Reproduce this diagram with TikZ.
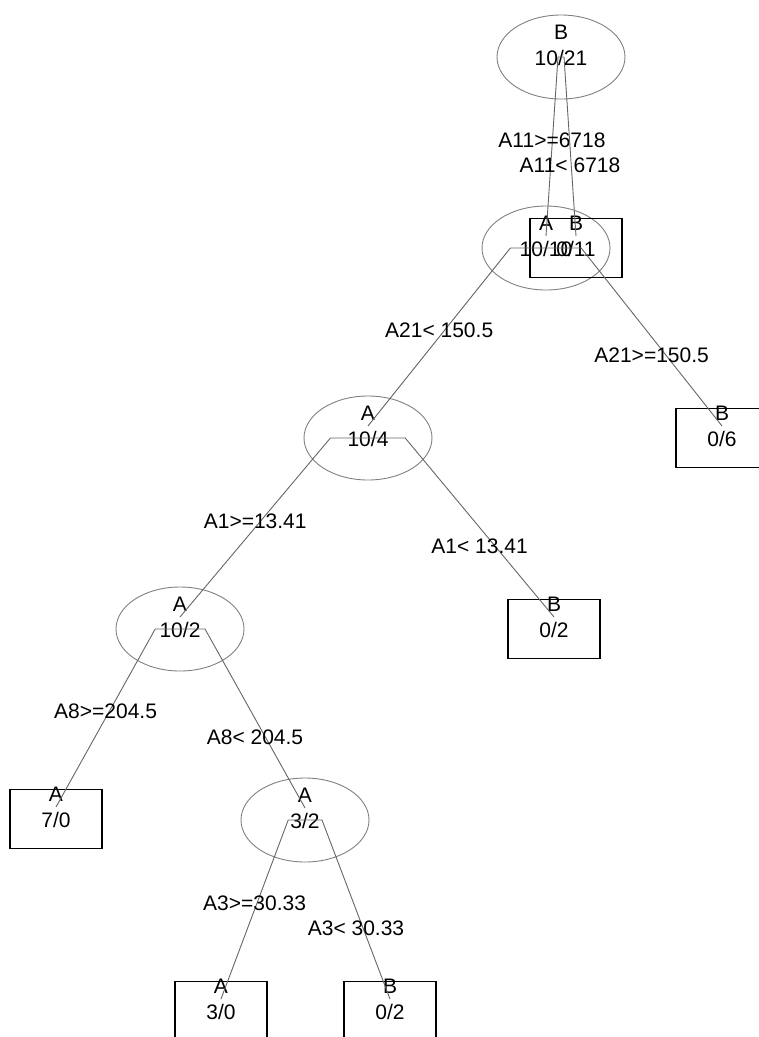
\documentclass[tikz,border=0pt]{standalone}
\usepackage{fontspec}
\setmainfont{Liberation Sans}
\usetikzlibrary{shapes,calc}
\newcommand{\branch}[4]{
  \draw[edge] (#1.center) -- ($(#1.center)!0.2!(#1.center -| #2.center)$) coordinate (#1#2k)
    -- ([yshift=12pt]#2.center);
  \node[cond] (#1#2c) at ($(#1#2k)!0.5!(#2.center) + (0,#4)$) {#3};
}
\tikzset{
  split/.style = {ellipse, draw=black!50, line width=0.9pt,
                  minimum width=128pt, minimum height=84pt, inner sep=0pt},
  leaf/.style  = {rectangle, draw=black, line width=1.4pt,
                  minimum width=92pt, minimum height=59pt, inner sep=0pt},
  txt/.style   = {font=\fontsize{21}{26}\selectfont, align=center,
                  inner sep=0pt, yshift=12pt},
  edge/.style  = {draw=black!60, line width=0.9pt},
  cond/.style  = {font=\fontsize{21}{24}\selectfont, inner sep=0pt}
}

\begin{document}
\begin{tikzpicture}[x=1pt,y=-1pt]
	\clip (0,0) rectangle (759,1037);
	\node[split, label={[txt]center:{B\\10/21}}] (root) at (561,57) {};
	\node[split, label={[txt]center:{A\\10/10}}] (sA1) at (546,248) {};
	\node[leaf,  label={[txt]center:{B\\0/11}}]  (lB1) at (576,248) {};
	\node[split, label={[txt]center:{A\\10/4}}]  (sA2) at (368,438) {};
	\node[leaf,  label={[txt]center:{B\\0/6}}]   (lB2) at (722,438) {};
	\node[split, label={[txt]center:{A\\10/2}}]  (sA3) at (180,629) {};
	\node[leaf,  label={[txt]center:{B\\0/2}}]   (lB3) at (554,629) {};
	\node[leaf,  label={[txt]center:{A\\7/0}}]   (lA1) at (56,819) {};
	\node[split, label={[txt]center:{A\\3/2}}]   (sA4) at (305,820) {};
	\node[leaf,  label={[txt]center:{A\\3/0}}]   (lA2) at (221,1011) {};
	\node[leaf,  label={[txt]center:{B\\0/2}}]   (lB4) at (390,1011) {};
	\branch{root}{sA1}{A11>=6718}{-12.5}
	\branch{root}{lB1}{A11< 6718}{12.5}
	\branch{sA1}{sA2}{A21< 150.5}{-12.5}
	\branch{sA1}{lB2}{A21>=150.5}{12.5}
	\branch{sA2}{sA3}{A1>=13.41}{-12.5}
	\branch{sA2}{lB3}{A1< 13.41}{12.5}
	\branch{sA3}{lA1}{A8>=204.5}{-12.5}
	\branch{sA3}{sA4}{A8< 204.5}{12.5}
	\branch{sA4}{lA2}{A3>=30.33}{-12.5}
	\branch{sA4}{lB4}{A3< 30.33}{12.5}
\end{tikzpicture}
\end{document}
